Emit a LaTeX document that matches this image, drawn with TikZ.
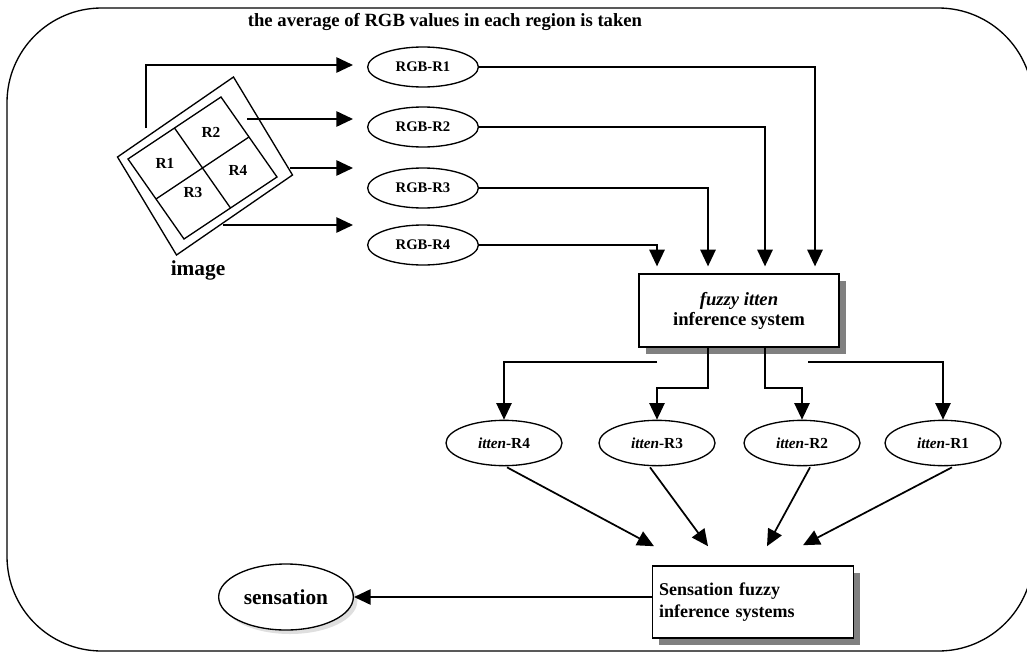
\documentclass[tikz,border=0pt]{standalone}
\usepackage{fontspec}
\setmainfont{Liberation Serif}
\usetikzlibrary{arrows.meta, positioning, calc, shapes.geometric, shadows}
\definecolor{shadowgray}{HTML}{808080}

\tikzset{
  conn/.style={line width=1.3pt, -{Triangle[length=12.5pt, width=11.5pt]}},
  rgbnode/.style={ellipse, draw, line width=1pt, minimum width=83pt, minimum height=30pt,
    inner sep=0pt, font=\bfseries\fontsize{11}{13}\selectfont},
  ittennode/.style={ellipse, draw, line width=1pt, minimum width=87pt, minimum height=34pt,
    inner sep=0pt, font=\bfseries\fontsize{11.5}{13}\selectfont},
  fisbox/.style={rectangle, draw, line width=1.2pt, fill=white,
    drop shadow={shadow xshift=5pt, shadow yshift=-5pt, fill=shadowgray, opacity=1}},
}

\begin{document}
\begin{tikzpicture}[x=0.75pt, y=-0.75pt]
  \clip (0,0) rectangle (1027,653);

  % Outer frame
  \draw[line width=1pt, rounded corners=71pt] (7,8) rectangle (1033,651);
  \node[font=\bfseries\fontsize{14}{16}\selectfont] (title) at (445,22)
    {the average of RGB values in each region is taken};

  % Image split into four regions
  \draw[line width=1pt] (117.5,157) -- (233.5,77) -- (292.5,175) -- (176.5,255) -- cycle;
  \draw[line width=1pt] (128,159) -- (221,97) -- (277,177) -- (184,239) -- cycle;
  \draw[line width=1pt] (174.5,128) -- (230.5,208) (156,199) -- (249,137);
  \node[font=\bfseries\fontsize{11.5}{13}\selectfont] (r1) at (165,163) {R1};
  \node[font=\bfseries\fontsize{11.5}{13}\selectfont] (r2) at (211,132) {R2};
  \node[font=\bfseries\fontsize{11.5}{13}\selectfont] (r3) at (193,192) {R3};
  \node[font=\bfseries\fontsize{11.5}{13}\selectfont] (r4) at (238,170) {R4};
  \node[font=\bfseries\fontsize{16}{18}\selectfont] (image) at (198,270) {image};

  % RGB averages
  \node[rgbnode] (rgb1) at (423,67) {RGB-R1};
  \node[rgbnode] (rgb2) at (423,127) {RGB-R2};
  \node[rgbnode] (rgb3) at (423,188) {RGB-R3};
  \node[rgbnode] (rgb4) at (423,245) {RGB-R4};

  \coordinate (o1) at (146,128);
  \coordinate (o2) at (247,119);
  \coordinate (o3) at (290,168);
  \coordinate (o4) at (223,225);
  \coordinate (a1) at (353,65);
  \coordinate (a2) at (353,119);
  \coordinate (a3) at (353,168);
  \coordinate (a4) at (353,225);
  \draw[conn] (o1) |- (a1);
  \draw[conn] (o2) -- (a2);
  \draw[conn] (o3) -- (a3);
  \draw[conn] (o4) -- (a4);

  % fuzzy itten inference system
  \node[fisbox, minimum width=150pt, minimum height=55pt, align=center,
    font=\bfseries\fontsize{14}{15}\selectfont] (fis) at (739,310.5)
    {\textit{fuzzy itten}\\inference system};

  \draw[conn, shorten >=5pt] (rgb1.east) -| ($(fis.north)+(76,0)$);
  \draw[conn, shorten >=5pt] (rgb2.east) -| ($(fis.north)+(26,0)$);
  \draw[conn, shorten >=5pt] (rgb3.east) -| ($(fis.north)+(-31,0)$);
  \draw[conn, shorten >=5pt] (rgb4.east) -| ($(fis.north)+(-82,0)$);

  % itten of each region
  \node[ittennode] (it4) at (504,443) {\textit{itten}-R4};
  \node[ittennode] (it3) at (657,443) {\textit{itten}-R3};
  \node[ittennode] (it2) at (802,443) {\textit{itten}-R2};
  \node[ittennode] (it1) at (943,443) {\textit{itten}-R1};

  \coordinate (b4) at ($(fis.south)+(-82,14)$);
  \coordinate (b1) at ($(fis.south)+(69,14)$);
  \draw[conn] (b4) -| (it4.north);
  \draw[conn] ($(fis.south)+(-31,0)$) -- ++(0,40) -| (it3.north);
  \draw[conn] ($(fis.south)+(26,0)$) -- ++(0,40) -| (it2.north);
  \draw[conn] (b1) -| (it1.north);

  % Sensation fuzzy inference systems
  \node[fisbox, inner xsep=5pt, text width=141pt, minimum height=54pt, align=left,
    font=\bfseries\fontsize{13.5}{17}\selectfont] (sfis) at (753,602)
    {Sensation fuzzy\\inference systems};
  \node[ellipse, draw, line width=1pt, fill=white, minimum width=101pt, minimum height=49.5pt,
    inner sep=0pt, drop shadow={shadow xshift=3pt, shadow yshift=-3pt, opacity=0.25},
    font=\bfseries\fontsize{16}{18}\selectfont] (sens) at (286,597) {sensation};

  \coordinate (c4) at ($(sfis.north)+(-99,-19)$);
  \coordinate (c3) at ($(sfis.north)+(-45,-19)$);
  \coordinate (c2) at ($(sfis.north)+(14,-19)$);
  \coordinate (c1) at ($(sfis.north)+(50,-20)$);
  \draw[conn] ($(it4.south)+(3,1)$) -- (c4);
  \draw[conn] ($(it3.south)+(-7,1)$) -- (c3);
  \draw[conn] ($(it2.south)+(8,1)$) -- (c2);
  \draw[conn] ($(it1.south)+(9,1)$) -- (c1);

  \draw[conn] (sfis.west |- sens.east) -- (sens.east);
\end{tikzpicture}
\end{document}
